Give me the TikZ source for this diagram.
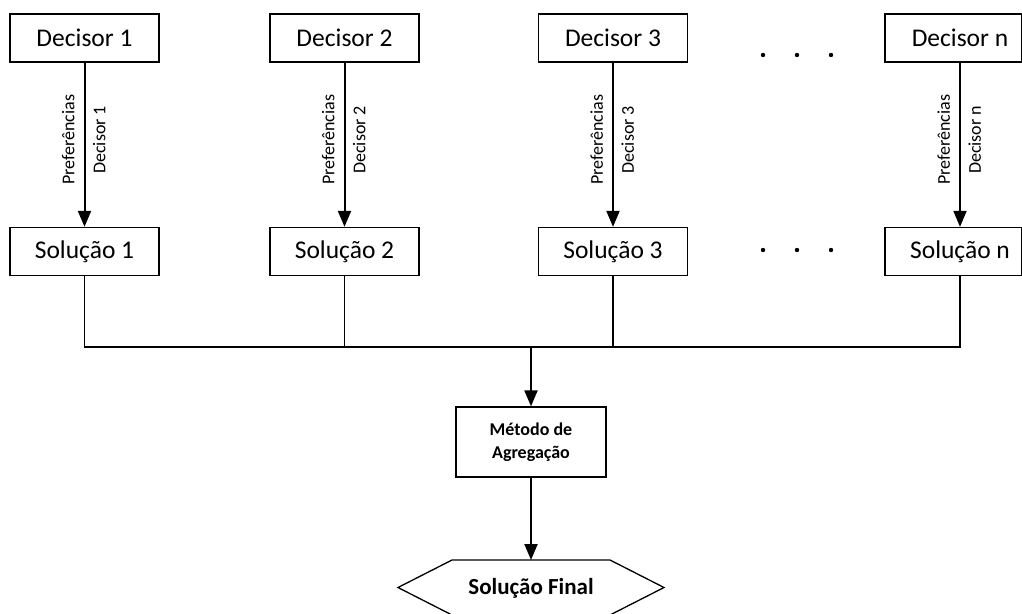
\documentclass[tikz,border=0pt]{standalone}
\usepackage{fontspec}
\setmainfont{Carlito}
\usetikzlibrary{arrows.meta}

\tikzset{
  box/.style={draw, line width=1.3pt, minimum width=149pt, minimum height=48pt,
    inner sep=0pt, font=\fontsize{25.5}{30}\selectfont},
  flow/.style={line width=2pt, -{Triangle[width=13pt,length=16pt]}},
  bus/.style={line width=1.3pt},
  lableft/.style={xshift=-9pt, rotate=90, anchor=south, inner sep=0pt,
    font=\fontsize{18}{21}\selectfont},
  labright/.style={xshift=7.5pt, rotate=90, anchor=north, inner sep=0pt,
    font=\fontsize{18}{21}\selectfont},
  dot/.style={fill=black}
}

\begin{document}
\begin{tikzpicture}[x=1pt, y=-1pt]
\useasboundingbox (0,0) rectangle (1022,613);

% decision makers and their individual solutions
\node[box] (d1) at (84.5,38)  {Decisor 1};
\node[box] (d2) at (344.5,38) {Decisor 2};
\node[box] (d3) at (613,38)   {Decisor 3};
\node[box, minimum width=150pt] (dn) at (960,38) {Decisor n};

\node[box] (s1) at (84.5,251.5)  {Solução 1};
\node[box] (s2) at (344.5,251.5) {Solução 2};
\node[box] (s3) at (613,251.5)   {Solução 3};
\node[box, minimum width=150pt] (sn) at (960,251.5) {Solução n};

% right border of the last column at the page edge
\draw[line width=1.3pt] (1021.3,14) -- (1021.3,62);
\draw[line width=1.3pt] (1021.3,227.5) -- (1021.3,275.5);

% preference arrows
\foreach \i/\t in {1/1, 2/2, 3/3, n/n}{
  \draw[flow] (d\i) -- (s\i)
    node[pos=0.47, lableft] {Preferências}
    node[pos=0.47, labright] {Decisor \t};
}

% ellipsis dots
\foreach \y in {55,250}{
  \foreach \x in {763,797,831}{
    \fill[dot] (\x,\y) circle (2.2pt);
  }
}

% collecting bus
\coordinate (bus) at (531,347);
\draw[bus] (s1.south) |- (bus) -| (sn.south);
\draw[bus] (s2.south) -- (s2.south |- bus);
\draw[bus] (s3.south) -- (s3.south |- bus);

% aggregation
\node[draw, line width=1.3pt, minimum width=150pt, minimum height=70pt,
  align=center, font=\fontsize{18}{23}\selectfont\bfseries] (met) at (531,442)
  {Método de\\Agregação};
\draw[flow] (bus) -- (met);

% final solution
\node[inner sep=0pt, font=\fontsize{23}{28}\selectfont\bfseries] (fin) at (531,588) {Solução Final};
\coordinate (fintop) at (531,560);
\draw[line width=1.3pt] (452,560) -- (610,560) -- (664,587.5) -- (610,615)
  -- (452,615) -- (398,587.5) -- cycle;
\draw[flow] (met) -- (fintop);
\end{tikzpicture}
\end{document}
